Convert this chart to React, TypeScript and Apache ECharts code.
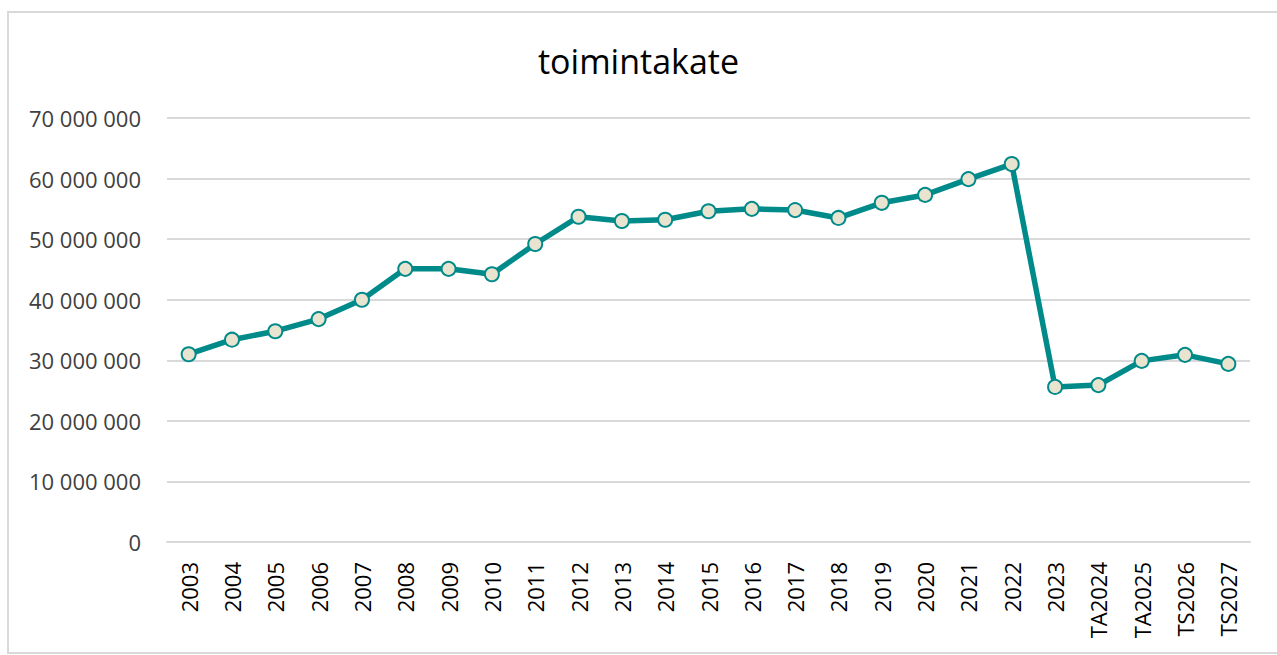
import React, { useEffect, useRef } from "react";
import * as echarts from "echarts";

const categories = [
  "2003", "2004", "2005", "2006", "2007", "2008", "2009", "2010", "2011", "2012",
  "2013", "2014", "2015", "2016", "2017", "2018", "2019", "2020", "2021", "2022",
  "2023", "TA2024", "TA2025", "TS2026", "TS2027",
];
const values = [
  31000000, 33400000, 34800000, 36800000, 40000000, 45100000, 45100000, 44200000, 49200000, 53700000,
  53000000, 53200000, 54600000, 55000000, 54800000, 53500000, 56000000, 57300000, 59900000, 62400000,
  25600000, 25900000, 29900000, 30900000, 29400000,
];
const yTicks = { min: 0, max: 70000000, interval: 10000000 };
const title = "toimintakate";

const fmt = (v: number) => String(Math.round(v)).replace(/\B(?=(\d{3})+(?!\d))/g, " ");

export default function App() {
  const ref = useRef<HTMLDivElement>(null);
  useEffect(() => {
    if (!ref.current) return;
    const chart = echarts.init(ref.current, undefined, { renderer: "svg" });
    const font = "'Open Sans', 'Noto Sans', sans-serif";
    chart.setOption({
      animation: false,
      backgroundColor: "#ffffff",
      title: {
        text: title,
        left: "center",
        top: 39,
        textStyle: { fontFamily: font, fontSize: 34, fontWeight: "normal", color: "#000000" },
      },
      graphic: [
        {
          type: "rect",
          shape: { x: 8, y: 12, width: 1300, height: 641 },
          style: { fill: "none", stroke: "#d9d9d9", lineWidth: 2 },
          silent: true,
        },
      ],
      grid: { left: 167, right: 27, top: 118, bottom: 113, containLabel: false },
      xAxis: {
        type: "category",
        data: categories,
        boundaryGap: true,
        axisLine: { show: true, lineStyle: { color: "#d9d9d9", width: 2 } },
        axisTick: { show: false },
        axisLabel: {
          rotate: 90,
          interval: 0,
          fontFamily: font,
          fontSize: 22,
          color: "#000000",
          margin: 20,
        },
      },
      yAxis: {
        type: "value",
        min: yTicks.min,
        max: yTicks.max,
        interval: yTicks.interval,
        axisLine: { show: false },
        axisTick: { show: false },
        splitLine: { lineStyle: { color: "#d9d9d9", width: 2 } },
        axisLabel: {
          formatter: (v: number) => fmt(v),
          fontFamily: font,
          fontSize: 22,
          color: "#404040",
          margin: 26,
        },
      },
      series: [
        {
          type: "line",
          data: values,
          symbol: "circle",
          symbolSize: 14,
          lineStyle: { color: "#008a8a", width: 5.5 },
          itemStyle: { color: "#e8e4cf", borderColor: "#008a8a", borderWidth: 2 },
        },
      ],
    });
    return () => chart.dispose();
  }, []);
  return (
    <div
      ref={ref}
      style={{ position: "fixed", left: 0, top: 0, width: 1277, height: 655 }}
    />
  );
}
